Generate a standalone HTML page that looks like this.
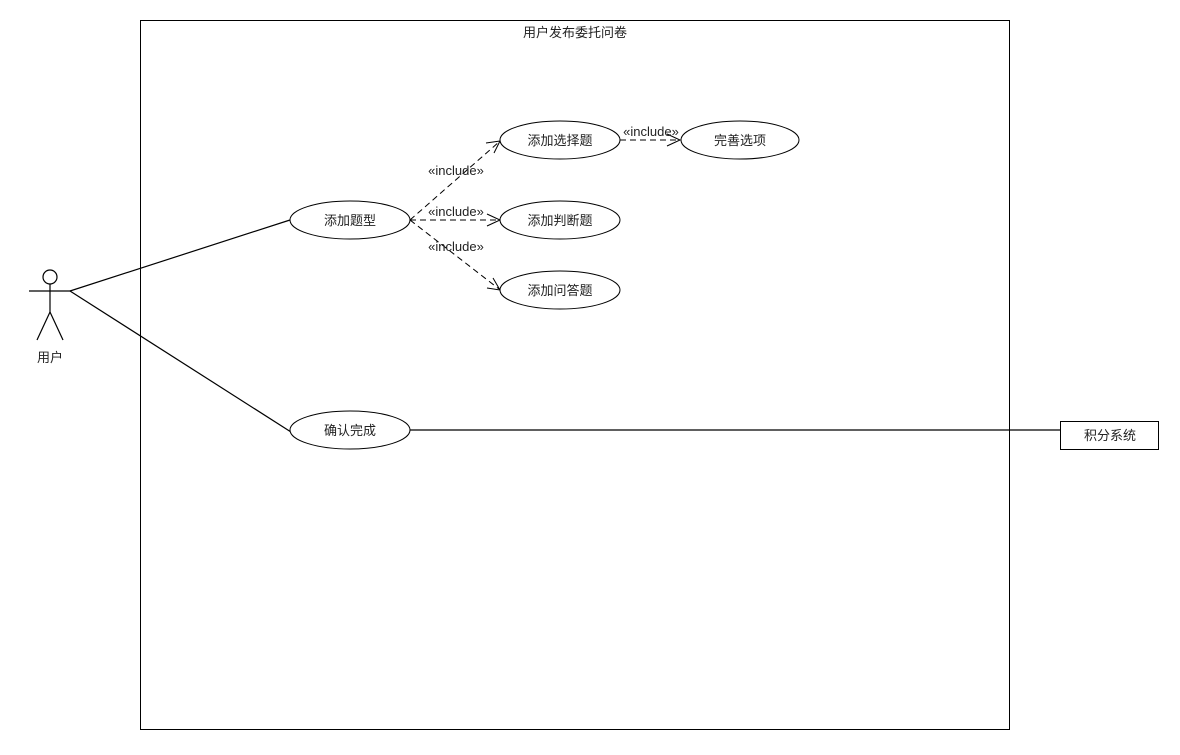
<!DOCTYPE html>
<html><head><meta charset="utf-8"><style>
body{margin:0;background:#fff;width:1180px;height:750px;overflow:hidden}
svg text{font-family:"Liberation Sans","Noto Sans CJK SC",sans-serif;font-size:13px;fill:#222}
</style></head><body>
<svg width="1180" height="750" xmlns="http://www.w3.org/2000/svg">
<rect x="140.5" y="20.5" width="869" height="709" fill="none" stroke="#000"/>
<text x="575" y="37" text-anchor="middle">用户发布委托问卷</text>
<!-- actor -->
<g stroke="#000" fill="none" stroke-width="1.2">
<circle cx="50" cy="277" r="7"/>
<line x1="50" y1="284" x2="50" y2="312"/>
<line x1="29" y1="291" x2="71" y2="291"/>
<line x1="50" y1="312" x2="37" y2="340"/>
<line x1="50" y1="312" x2="63" y2="340"/>
<line x1="70" y1="291" x2="290" y2="220"/>
<line x1="70" y1="291" x2="291" y2="432"/>
<line x1="410" y1="430" x2="1060" y2="430"/>
</g>
<text x="50" y="362" text-anchor="middle">用户</text>
<!-- dashed -->
<g stroke="#000" fill="none" stroke-dasharray="6,4">
<line x1="410" y1="220" x2="499" y2="142"/>
<line x1="410" y1="220" x2="499" y2="220"/>
<line x1="410" y1="220" x2="499" y2="289"/>
<line x1="620" y1="140" x2="680" y2="140"/>
</g>
<g stroke="#000" fill="none">
<polyline points="486,143 500,141 494,153"/>
<polyline points="487,214 500,220 487,226"/>
<polyline points="487,288 500,290 493,278"/>
<polyline points="667,134 680,140 667,146"/>
</g>
<g font-size="12">
<text x="456" y="175" text-anchor="middle">«include»</text>
<text x="456" y="216" text-anchor="middle">«include»</text>
<text x="456" y="251" text-anchor="middle">«include»</text>
<text x="651" y="136" text-anchor="middle">«include»</text>
</g>
<g fill="#fff" stroke="#000">
<ellipse cx="350" cy="220" rx="60" ry="19"/>
<ellipse cx="560" cy="140" rx="60" ry="19"/>
<ellipse cx="740" cy="140" rx="59" ry="19"/>
<ellipse cx="560" cy="220" rx="60" ry="19"/>
<ellipse cx="560" cy="290" rx="60" ry="19"/>
<ellipse cx="350" cy="430" rx="60" ry="19"/>
<rect x="1060.5" y="421.5" width="98" height="28"/>
</g>
<g text-anchor="middle">
<text x="350" y="225">添加题型</text>
<text x="560" y="145">添加选择题</text>
<text x="740" y="145">完善选项</text>
<text x="560" y="225">添加判断题</text>
<text x="560" y="295">添加问答题</text>
<text x="350" y="435">确认完成</text>
<text x="1110" y="440">积分系统</text>
</g>
</svg>
</body></html>
